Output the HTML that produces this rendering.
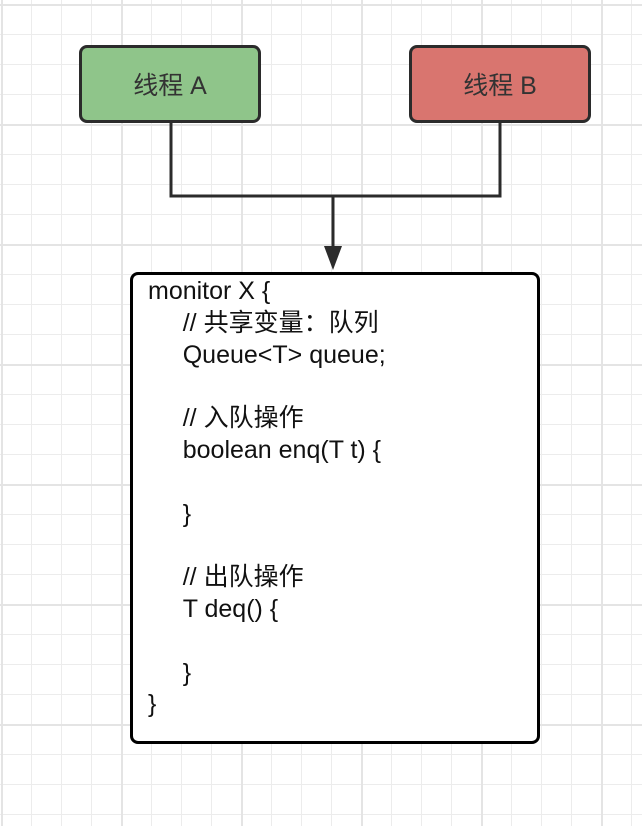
<!DOCTYPE html>
<html><head><meta charset="utf-8"><style>
html,body{margin:0;padding:0;}
body{width:642px;height:826px;position:relative;overflow:hidden;background-color:#fff;
background-image:
linear-gradient(#e4e4e4 2px,transparent 2px),
linear-gradient(90deg,#e4e4e4 2px,transparent 2px),
linear-gradient(#ececec 1px,transparent 1px),
linear-gradient(90deg,#ececec 1px,transparent 1px);
background-size:120px 120px,120px 120px,30px 30px,30px 30px;
background-position:0 4px,1px 0,0 4px,1px 0;
font-family:"Liberation Sans","Noto Sans CJK SC",sans-serif;}
.b{position:absolute;box-sizing:border-box;border:3px solid #2b2b2b;border-radius:8px;display:flex;align-items:center;justify-content:center;font-size:25px;color:#333;}
.m{position:absolute;left:130px;top:272px;width:410px;height:472px;box-sizing:border-box;border:3px solid #000;border-radius:8px;background:#fff;}
.t{position:absolute;left:148px;top:276px;font-size:25px;line-height:31.8px;color:#111;white-space:pre;}
</style></head><body>
<div class="b" style="left:79px;top:45px;width:182px;height:78px;background:#8fc58a">线程 A</div>
<div class="b" style="left:409px;top:45px;width:182px;height:78px;background:#d9756f">线程 B</div>
<svg width="642" height="826" style="position:absolute;left:0;top:0">
<path d="M171 122 V196 H500 V122 M333 196 V248" stroke="#2b2b2b" stroke-width="3" fill="none"/>
<polygon points="324,246 342,246 333,270" fill="#2b2b2b"/>
</svg>
<div class="m"></div>
<div class="t">monitor X {
     // 共享变量：队列
     Queue&lt;T&gt; queue;

     // 入队操作
     boolean enq(T t) {

     }

     // 出队操作
     T deq() {

     }
}</div>
</body></html>
